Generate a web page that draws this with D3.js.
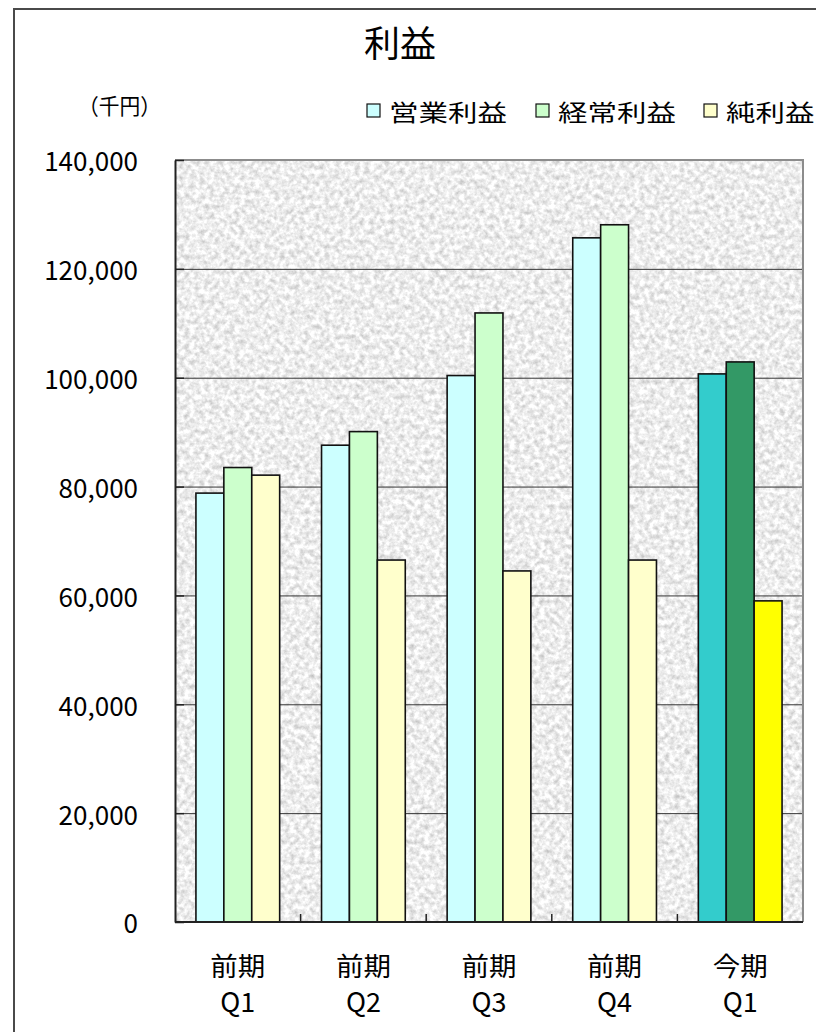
<html>
<head>
  <title>利益</title>
  <meta charset="utf-8" />
<script src="https://d3js.org/d3.v7.min.js"></script>
</head>
<style>
  body { margin: 0; background: #fff; }
  svg { display: block; font-family: "Noto Sans CJK JP", "Noto Sans", sans-serif; }
</style>
<body>
<div id="viz">
  <svg class="main" width="816" height="1032"></svg>
</div>
<script>

// data (千円)
const periodTop = ["前期", "前期", "前期", "前期", "今期"]
const periodBottom = ["Q1", "Q2", "Q3", "Q4", "Q1"]
const seriesNames = ["営業利益", "経常利益", "純利益"]
const opIncome = [78800, 87600, 100400, 125700, 100700]
const ordIncome = [83500, 90100, 111900, 128100, 102900]
const netIncome = [82100, 66500, 64500, 66500, 59000]
const yTicks = [0, 20000, 40000, 60000, 80000, 100000, 120000, 140000]

const lightColors = ["#ccffff", "#ccffcc", "#ffffcc"]
const darkColors = ["#33cccc", "#339966", "#ffff00"]

const series = [opIncome, ordIncome, netIncome]
const cats = d3.range(periodTop.length)

const svg = d3.select("svg")
const plot = { left: 175, right: 803, top: 160, bottom: 922 }

// outer chart frame
svg.append("path")
  .attr("d", "M14,1032V9H816")
  .attr("fill", "none")
  .attr("stroke", "#4a4a4a")
  .attr("stroke-width", 2)

// granite texture for the plot area
const defs = svg.append("defs")
const f = defs.append("filter")
  .attr("id", "granite")
  .attr("filterUnits", "userSpaceOnUse")
  .attr("x", plot.left).attr("y", plot.top)
  .attr("width", plot.right - plot.left).attr("height", plot.bottom - plot.top)
  .attr("color-interpolation-filters", "sRGB")
f.append("feTurbulence")
  .attr("type", "fractalNoise")
  .attr("baseFrequency", "0.2")
  .attr("numOctaves", 3)
  .attr("seed", 7)
  .attr("result", "noise")
f.append("feColorMatrix")
  .attr("in", "noise")
  .attr("type", "matrix")
  .attr("values", "0.4 0 0 0 0.73  0.4 0 0 0 0.73  0.4 0 0 0 0.73  0 0 0 0 1")

svg.append("rect")
  .attr("x", plot.left).attr("y", plot.top)
  .attr("width", plot.right - plot.left).attr("height", plot.bottom - plot.top)
  .attr("fill", "#e8e8e8")
  .attr("filter", "url(#granite)")

const x = d3.scaleBand().domain(cats).range([plot.left, plot.right]).padding(0)
const xs = d3.scaleBand().domain(d3.range(series.length)).range([0, x.bandwidth()])
  .paddingInner(0).paddingOuter(0.75)
const y = d3.scaleLinear().domain([0, 140000]).range([plot.bottom, plot.top])

// gridlines
svg.append("g")
  .attr("transform", `translate(${plot.left},0)`)
  .call(d3.axisLeft(y).tickValues(yTicks.slice(1, -1)).tickSize(-(plot.right - plot.left)).tickFormat(""))
  .call(g => g.select(".domain").remove())
  .call(g => g.selectAll("line").attr("stroke", "#333").attr("stroke-width", 1))

// plot border (top/right grey)
svg.append("path")
  .attr("d", `M${plot.left},${plot.top}H${plot.right}V${plot.bottom}`)
  .attr("fill", "none")
  .attr("stroke", "#8c8c8c")
  .attr("stroke-width", 2)

// bars
series.forEach((vals, si) => {
  svg.append("g")
    .selectAll("rect")
    .data(cats)
    .enter()
    .append("rect")
    .attr("x", c => x(c) + xs(si))
    .attr("y", c => y(vals[c]))
    .attr("width", xs.bandwidth())
    .attr("height", c => y(0) - y(vals[c]))
    .attr("fill", c => c === cats.length - 1 ? darkColors[si] : lightColors[si])
    .attr("stroke", "#111")
    .attr("stroke-width", 1.6)
})

// y axis
svg.append("g")
  .attr("transform", `translate(${plot.left},0)`)
  .call(d3.axisLeft(y).tickValues(yTicks).tickSizeInner(-9).tickSizeOuter(0).tickPadding(37).tickFormat(d3.format(",")))
  .call(g => g.select(".domain").attr("stroke", "#222").attr("stroke-width", 2))
  .call(g => g.selectAll("line").attr("stroke", "#222").attr("stroke-width", 1.5))
  .call(g => g.selectAll("text")
    .attr("font-size", 26)
    .attr("font-family", "'Noto Sans CJK JP', sans-serif")
    .attr("fill", "#000")
    .attr("dy", "0.42em"))

// x axis line and category ticks
svg.append("line")
  .attr("x1", plot.left).attr("x2", plot.right)
  .attr("y1", plot.bottom).attr("y2", plot.bottom)
  .attr("stroke", "#222").attr("stroke-width", 2)

svg.append("g")
  .selectAll("line")
  .data(cats.slice(1))
  .enter()
  .append("line")
  .attr("x1", c => x(c)).attr("x2", c => x(c))
  .attr("y1", plot.bottom).attr("y2", plot.bottom - 8)
  .attr("stroke", "#222").attr("stroke-width", 1.5)

// category labels
const labels = svg.append("g").attr("text-anchor", "middle").attr("fill", "#000")
labels.selectAll("text.top")
  .data(cats)
  .enter()
  .append("text")
  .attr("class", "top")
  .attr("x", c => x(c) + x.bandwidth() / 2)
  .attr("y", 976)
  .attr("font-size", 26)
  .attr("textLength", 55)
  .attr("lengthAdjust", "spacingAndGlyphs")
  .text(c => periodTop[c])
labels.selectAll("text.bottom")
  .data(cats)
  .enter()
  .append("text")
  .attr("class", "bottom")
  .attr("x", c => x(c) + x.bandwidth() / 2)
  .attr("y", 1012)
  .attr("font-size", 27)
  .text(c => periodBottom[c])

// title and unit
svg.append("text")
  .attr("x", 400).attr("y", 57)
  .attr("text-anchor", "middle")
  .attr("font-size", 36)
  .text("利益")

svg.append("text")
  .attr("x", 78).attr("y", 114)
  .attr("font-size", 22)
  .attr("textLength", 83)
  .attr("lengthAdjust", "spacingAndGlyphs")
  .text("（千円）")

// legend
const legendX = [367, 536, 704]
const legend = svg.append("g")
seriesNames.forEach((name, i) => {
  legend.append("rect")
    .attr("x", legendX[i]).attr("y", 104)
    .attr("width", 13).attr("height", 13)
    .attr("fill", lightColors[i])
    .attr("stroke", "#111")
    .attr("stroke-width", 1.2)
  legend.append("text")
    .attr("x", legendX[i] + 22).attr("y", 121)
    .attr("font-size", 23)
    .attr("textLength", name.length * 29.5)
    .attr("lengthAdjust", "spacingAndGlyphs")
    .text(name)
})

</script>
</body>
</html>
